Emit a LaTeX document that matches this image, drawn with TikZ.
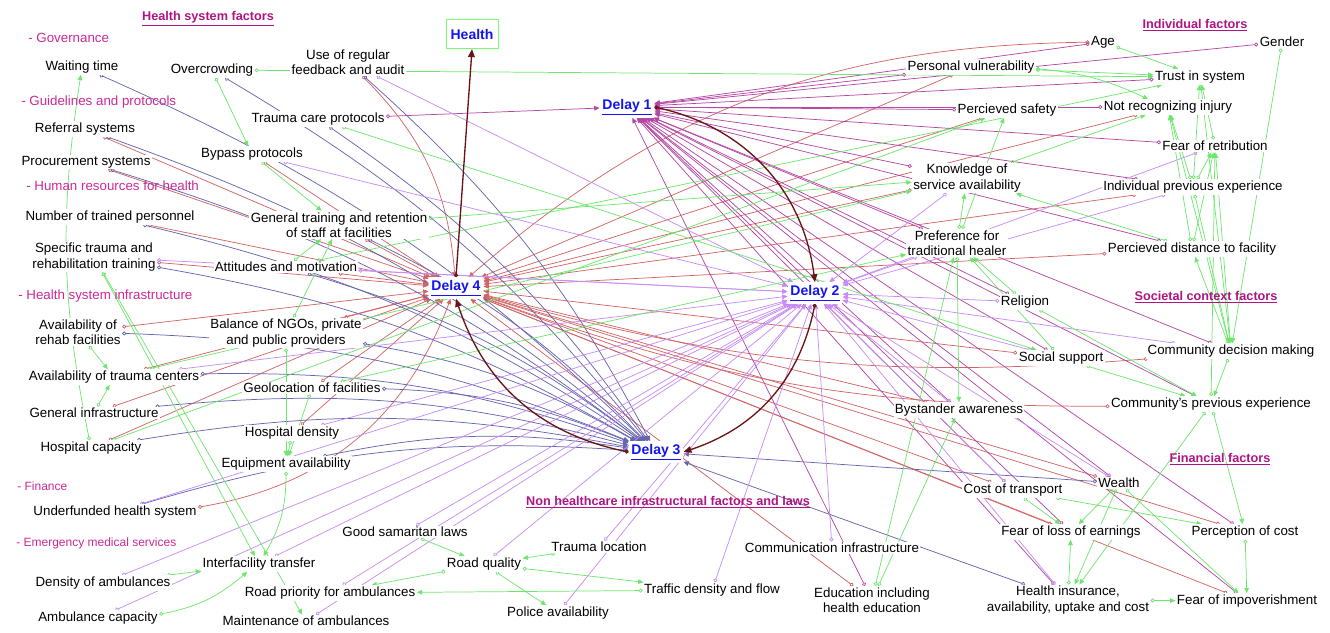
\documentclass[tikz,border=0pt]{standalone}
\usepackage{fontspec}
\setmainfont{Liberation Sans}
\usetikzlibrary{arrows.meta}
\definecolor{headcol}{RGB}{175,20,130}
\definecolor{subcol}{RGB}{205,40,150}
\definecolor{delayblue}{RGB}{20,20,240}
\definecolor{redlink}{RGB}{210,100,100}
\definecolor{navylink}{RGB}{100,100,175}
\definecolor{maglink}{RGB}{180,70,165}
\definecolor{violink}{RGB}{200,140,245}
\definecolor{greenlink}{RGB}{110,230,110}
\definecolor{brownlink}{RGB}{105,20,20}
\tikzstyle{factor} = [font=\fontsize{10}{11.5}\selectfont, align=center, fill=white, inner sep=1pt]
\tikzstyle{grouphead} = [font=\fontsize{9.5}{11}\selectfont\bfseries, text=headcol]
\tikzstyle{subhead} = [font=\fontsize{10}{11}\selectfont, text=subcol, anchor=west, inner sep=0pt]
\tikzstyle{delay} = [font=\fontsize{10.5}{12}\selectfont\bfseries, text=delayblue, fill=white, inner sep=2pt]
\tikzstyle{link} = [line width=0.55pt, {Circle[open,length=3pt]}-{Triangle[length=4pt,width=3.5pt]}]
\tikzstyle{tofour} = [link, draw=redlink]
\tikzstyle{tothree} = [link, draw=navylink]
\tikzstyle{toone} = [link, draw=maglink]
\tikzstyle{totwo} = [link, draw=violink]
\tikzstyle{cause} = [link, draw=greenlink]
\tikzstyle{delayarc} = [draw=brownlink, line width=1pt, {Circle[open,length=3pt]}-{Triangle[length=6pt,width=5pt]}]
\pgfdeclarelayer{background}
\pgfsetlayers{background,main}

\begin{document}
\begin{tikzpicture}[x=0.75pt, y=-0.75pt]
    \useasboundingbox (0,0) rectangle (1330,632);
    % group titles
    \node [grouphead] (hsf) at (208,19) {\underline{Health system factors}};
    \node [grouphead] (indf) at (1195,25) {\underline{Individual factors}};
    \node [grouphead] (socf) at (1206,297) {\underline{Societal context factors}};
    \node [grouphead] (finf) at (1220,459) {\underline{Financial factors}};
    \node [grouphead] (nonf) at (668,502) {\underline{Non healthcare infrastructural factors and laws}};
    \node [subhead] (gov) at (28,38) {- Governance};
    \node [subhead] (guide) at (21,102) {- Guidelines and protocols};
    \node [subhead] (hr) at (26,186) {- Human resources for health};
    \node [subhead] (infra) at (18,296) {- Health system infrastructure};
    \node [subhead, font=\fontsize{9}{10}\selectfont] (fin) at (17,486) {- Finance};
    \node [subhead, font=\fontsize{9}{10}\selectfont] (ems) at (16,543) {- Emergency medical services};

    % delays
    \node [delay] (d1) at (627,107) {\underline{Delay 1}};
    \node [delay] (d2) at (815,293) {\underline{Delay 2}};
    \node [delay] (d3) at (656,452) {\underline{Delay 3}};
    \node [delay] (d4) at (456,288) {\underline{Delay 4}};
    \node [delay, draw=green!55!white, line width=0.6pt, minimum width=39pt, minimum height=22pt] (health) at (472,34) {Health};

    % health system factors
    \node [factor] (wait) at (82,67) {Waiting time};
    \node [factor] (crowd) at (212,70) {Overcrowding};
    \node [factor] (feedback) at (348,62) {Use of regular\\feedback and audit};
    \node [factor] (referral) at (85,129) {Referral systems};
    \node [factor] (tcp) at (318,119) {Trauma care protocols};
    \node [factor] (bypass) at (252,154) {Bypass protocols};
    \node [factor] (procure) at (86,162) {Procurement systems};
    \node [factor] (ntrained) at (110,217) {Number of trained personnel};
    \node [factor] (gentrain) at (339,225) {General training and retention\\of staff at facilities};
    \node [factor] (spectrain) at (94,257) {Specific trauma and\\rehabilitation training};
    \node [factor] (attitude) at (286,267) {Attitudes and motivation};
    \node [factor] (rehab) at (78,332) {Availability of\\rehab facilities};
    \node [factor] (ngo) at (286,333) {Balance of NGOs, private\\and public providers};
    \node [factor] (tcenter) at (114,377) {Availability of trauma centers};
    \node [factor] (geoloc) at (312,388) {Geolocation of facilities};
    \node [factor] (geninfra) at (94,413) {General infrastructure};
    \node [factor] (hcap) at (91,448) {Hospital capacity};
    \node [factor] (hdens) at (292,433) {Hospital density};
    \node [factor] (equip) at (286,464) {Equipment availability};
    \node [factor] (underfund) at (115,512) {Underfunded health system};
    \node [factor] (interfac) at (259,564) {Interfacility transfer};
    \node [factor] (densamb) at (103,583) {Density of ambulances};
    \node [factor] (roadprio) at (330,593) {Road priority for ambulances};
    \node [factor] (ambcap) at (98,618) {Ambulance capacity};
    \node [factor] (maint) at (306,621) {Maintenance of ambulances};

    % non healthcare factors
    \node [factor] (samaritan) at (405,532) {Good samaritan laws};
    \node [factor] (tloc) at (599,547) {Trauma location};
    \node [factor] (roadq) at (484,564) {Road quality};
    \node [factor] (traffic) at (712,590) {Traffic density and flow};
    \node [factor] (police) at (558,613) {Police availability};
    \node [factor] (comm) at (832,548) {Communication infrastructure};
    \node [factor] (educ) at (872,600) {Education including\\health education};

    % individual, societal, financial factors
    \node [factor] (age) at (1103,42) {Age};
    \node [factor] (gender) at (1282,42) {Gender};
    \node [factor] (persvul) at (971,67) {Personal vulnerability};
    \node [factor] (trust) at (1200,77) {Trust in system};
    \node [factor] (psafe) at (1007,110) {Percieved safety};
    \node [factor] (notrec) at (1168,107) {Not recognizing injury};
    \node [factor] (fearret) at (1215,146) {Fear of retribution};
    \node [factor] (know) at (967,178) {Knowledge of\\service availability};
    \node [factor] (indprev) at (1193,187) {Individual previous experience};
    \node [factor] (pref) at (957,243) {Preference for\\traditional healer};
    \node [factor] (pdist) at (1192,249) {Percieved distance to facility};
    \node [factor] (relig) at (1025,302) {Religion};
    \node [factor] (social) at (1061,358) {Social support};
    \node [factor] (commdec) at (1231,351) {Community decision making};
    \node [factor] (bystand) at (959,410) {Bystander awareness};
    \node [factor] (commprev) at (1211,404) {Community's previous experience};
    \node [factor] (wealth) at (1119,483) {Wealth};
    \node [factor] (costtr) at (1013,490) {Cost of transport};
    \node [factor] (fearloss) at (1071,532) {Fear of loss of earnings};
    \node [factor] (perccost) at (1245,532) {Perception of cost};
    \node [factor] (insur) at (1068,600) {Health insurance,\\availability, uptake and cost};
    \node [factor] (fearimp) at (1247,601) {Fear of impoverishment};

    \begin{pgfonlayer}{background}
    % Delay 4 (red)
    \foreach \src in {referral,procure,ntrained,spectrain,bypass,gentrain,attitude,rehab,ngo,tcenter,geninfra,hcap,geoloc,hdens,persvul,notrec,indprev,pdist,social,wealth,costtr,fearimp,perccost,educ,bystand,fearloss,know,psafe}
        \draw [tofour] (\src) -- (d4);
    \draw [tofour] (feedback) to[bend left=20] (d4);
    \draw [tofour] (underfund) to[bend right=30] (d4);
    \draw [tofour] (age) to[bend right=20] (d4);
    \draw [tofour] (commdec) to[bend left=10] (d4);
    \draw [tofour] (commprev) to[bend left=10] (d4);

    % Delay 3 (blue)
    \foreach \src in {wait,crowd,feedback,referral,procure,tcp,ntrained,spectrain,gentrain,attitude,ngo,rehab,tcenter,geninfra,hcap,geoloc,equip,underfund}
        \draw [tothree] (\src) to[bend left=10] (d3);
    \foreach \src in {wealth,insur}
        \draw [tothree] (\src) -- (d3);

    % Delay 1 (magenta)
    \foreach \src in {age,gender,persvul,trust,psafe,notrec,fearret,know,indprev,pref,pdist,relig,social,commdec,bystand,commprev,wealth,costtr,fearloss,perccost,insur,fearimp,educ,tcp}
        \draw [toone] (\src) -- (d1);

    % Delay 2 (violet)
    \foreach \src in {feedback,bypass,spectrain,attitude,tcenter,hdens,underfund,densamb,ambcap,interfac,roadprio,maint,samaritan,tloc,roadq,police,traffic,comm,know,pref,relig,social,commdec,indprev,fearret,bystand,wealth,costtr,insur}
        \draw [totwo] (\src) -- (d2);

    % links between factors (green)
    \foreach \src/\dst in {crowd/trust, crowd/bypass, bypass/gentrain, attitude/gentrain, ngo/gentrain,
        rehab/tcenter, geninfra/tcenter, spectrain/interfac, spectrain/maint, hdens/equip, geoloc/equip,
        ngo/equip, densamb/interfac, roadq/roadprio, traffic/roadprio, roadq/traffic, roadq/police,
        tloc/roadq, samaritan/roadq, gentrain/know, tcenter/know, hcap/psafe, geoloc/pref, attitude/trust,
        tcp/social, age/trust, persvul/trust, fearret/trust, indprev/trust, know/notrec, indprev/notrec,
        pdist/notrec, commdec/fearret, commprev/fearret, indprev/fearret, pdist/fearret, pref/psafe,
        pref/know, pdist/know, relig/pref, social/pref, educ/pref, commdec/pdist, notrec/commdec,
        indprev/commdec, trust/commdec, gender/commdec, relig/commprev, social/commprev, commdec/commprev,
        pref/bystand, educ/bystand, wealth/fearloss, wealth/insur, wealth/fearimp, costtr/fearloss,
        costtr/perccost, commprev/perccost, perccost/fearimp, insur/fearimp, insur/fearloss, commprev/insur}
        \draw [cause] (\src) -- (\dst);
    \draw [cause] (hcap) to[bend left=10] (wait);
    \draw [cause] (equip) to[bend left=15] (interfac);
    \draw [cause] (ambcap) to[bend right=15] (interfac);
    \draw [cause] (persvul) to[bend left=10] (notrec);

    % delays
    \draw [delayarc] (d1.east) to[bend left=35] (d2.north);
    \draw [delayarc] (d2.south) to[bend left=30] (d3.east);
    \draw [delayarc] (d3.west) to[bend left=30] (d4.south);
    \draw [delayarc] (d4.north) -- (health.south);
    \end{pgfonlayer}
\end{tikzpicture}
\end{document}
